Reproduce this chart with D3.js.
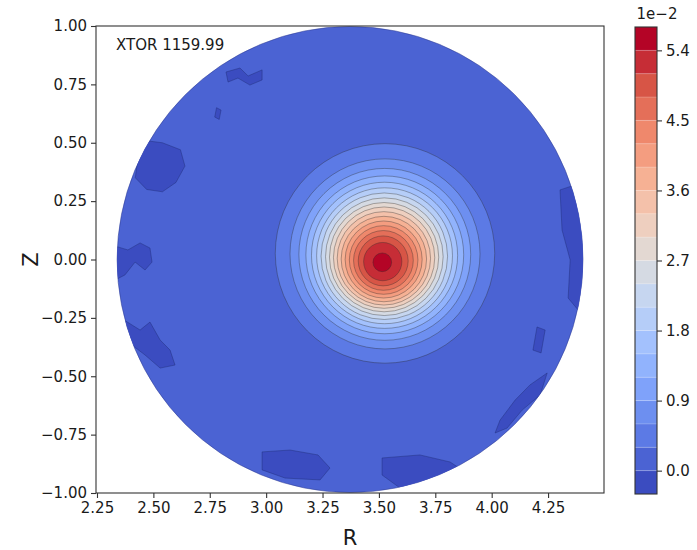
<!DOCTYPE html>
<html>
<head>
<meta charset="utf-8">
<script src="https://cdn.jsdelivr.net/npm/d3@7/dist/d3.min.js"></script>
<style>
  html, body { margin: 0; padding: 0; background: #fff; }
  svg { display: block; }
  text { font-family: "DejaVu Sans", sans-serif; fill: #1a1a1a; }
</style>
</head>
<body>
<svg id="chart" width="697" height="550"></svg>
<script>
// ---- data -------------------------------------------------------------
// filled-contour level boundaries (units of 1e-2)
const levels = [-0.3, 0.0, 0.3, 0.6, 0.9, 1.2, 1.5, 1.8, 2.1, 2.4, 2.7, 3.0,
                3.3, 3.6, 3.9, 4.2, 4.5, 4.8, 5.1, 5.4, 5.7];
const colorbarTicks = [0.0, 0.9, 1.8, 2.7, 3.6, 4.5, 5.4];
const rTicks = [2.25, 2.50, 2.75, 3.00, 3.25, 3.50, 3.75, 4.00, 4.25];
const zTicks = [-1.00, -0.75, -0.50, -0.25, 0.00, 0.25, 0.50, 0.75, 1.00];

// plasma boundary (R, Z centre and half-widths)
const boundary = { R0: 3.372, Z0: 0.0, aR: 1.033, aZ: 0.998 };

// closed iso-contours of the central peak, outermost first
const ringLevel   = [0.3, 0.6, 0.9, 1.2, 1.5, 1.8, 2.1, 2.4, 2.7, 3.0, 3.3, 3.6, 3.9, 4.2, 4.5, 4.8, 5.1, 5.4];
const ringRadiusZ = [0.470, 0.407, 0.368, 0.338, 0.313, 0.291, 0.271, 0.252, 0.234, 0.217, 0.200, 0.183, 0.165, 0.147, 0.128, 0.107, 0.082, 0.040];
const ringCenterR = [3.527, 3.527, 3.526, 3.526, 3.525, 3.525, 3.524, 3.524, 3.523, 3.523, 3.522, 3.522, 3.521, 3.521, 3.520, 3.519, 3.517, 3.515];
const ringCenterZ = [0.026, 0.024, 0.022, 0.020, 0.018, 0.016, 0.014, 0.012, 0.010, 0.008, 0.005, 0.002, 0.000, -0.002, -0.004, -0.006, -0.009, -0.012];
const ringElong = 1.035;   // R half-width / Z half-width of each contour

// small regions just below zero near the edge (R, Z outlines)
const negativePatches = [
  [[2.822,0.803],[2.884,0.820],[2.920,0.786],[2.982,0.812],[2.982,0.769],[2.928,0.747],[2.875,0.777],[2.831,0.760]],
  [[2.780,0.650],[2.800,0.640],[2.792,0.600],[2.772,0.610]],
  [[2.441,0.512],[2.540,0.500],[2.620,0.470],[2.640,0.400],[2.600,0.330],[2.540,0.290],[2.470,0.300],[2.420,0.350]],
  [[2.300,0.066],[2.387,0.041],[2.441,0.071],[2.485,0.049],[2.494,-0.011],[2.463,-0.045],[2.419,-0.011],[2.374,-0.066],[2.330,-0.088]],
  [[2.370,-0.259],[2.441,-0.302],[2.485,-0.268],[2.530,-0.345],[2.574,-0.388],[2.596,-0.452],[2.530,-0.465],[2.463,-0.409],[2.405,-0.366]],
  [[4.303,0.298],[4.356,0.315],[4.414,0.255],[4.436,0.084],[4.427,-0.173],[4.383,-0.216],[4.339,-0.165],[4.348,-0.002],[4.312,0.126]],
  [[4.201,-0.289],[4.237,-0.302],[4.219,-0.400],[4.183,-0.388]],
  [[4.246,-0.486],[4.215,-0.580],[4.135,-0.645],[4.068,-0.722],[4.015,-0.743],[4.037,-0.688],[4.104,-0.602],[4.170,-0.537]],
  [[2.982,-0.824],[3.106,-0.816],[3.230,-0.837],[3.283,-0.893],[3.239,-0.944],[3.084,-0.936],[2.982,-0.901]],
  [[3.514,-0.850],[3.682,-0.837],[3.815,-0.867],[3.904,-0.923],[3.771,-0.966],[3.594,-0.979],[3.514,-0.923]]
];

// ---- coolwarm colour map -----------------------------------------------
const coolwarmStops = ['#3b4cc0', '#5a78e4', '#7b9ff9', '#9ebeff', '#c0d4f5', '#dddcdc',
                       '#f2cbb7', '#f7ac8e', '#ee8468', '#d65244', '#b40426'];
const coolwarm = d3.scaleLinear()
  .domain(d3.range(coolwarmStops.length).map(i => i / (coolwarmStops.length - 1)))
  .range(coolwarmStops)
  .interpolate(d3.interpolateRgb);
const nBands = levels.length - 1;
const bandColor = i => coolwarm(i / (nBands - 1));
const bandOf = v => levels.findIndex((l, i) => i < nBands && v >= l - 1e-9 && v < levels[i + 1] - 1e-9);

// ---- layout ------------------------------------------------------------
const svg = d3.select('#chart');
const plot = { left: 96, right: 604, top: 26, bottom: 493 };
const cbar = { left: 635, right: 657, top: 27, bottom: 494 };

const x = d3.scaleLinear().domain([2.2456, 4.498]).range([plot.left, plot.right]);
const y = d3.scaleLinear().domain([-1, 1]).range([plot.bottom, plot.top]);

const defs = svg.append('defs');
defs.append('clipPath').attr('id', 'vessel')
  .append('ellipse')
  .attr('cx', x(boundary.R0)).attr('cy', y(boundary.Z0))
  .attr('rx', x(boundary.R0 + boundary.aR) - x(boundary.R0))
  .attr('ry', y(boundary.Z0) - y(boundary.Z0 + boundary.aZ));

const field = svg.append('g');

// background band (0 .. 0.3)
field.append('ellipse')
  .attr('cx', x(boundary.R0)).attr('cy', y(boundary.Z0))
  .attr('rx', x(boundary.R0 + boundary.aR) - x(boundary.R0))
  .attr('ry', y(boundary.Z0) - y(boundary.Z0 + boundary.aZ))
  .attr('fill', bandColor(bandOf(0.0)))
  .attr('stroke', '#2c3a8c').attr('stroke-opacity', 0.55).attr('stroke-width', 0.9);

const line = d3.line().x(d => x(d[0])).y(d => y(d[1])).curve(d3.curveLinearClosed);
field.append('g').attr('clip-path', 'url(#vessel)')
  .selectAll('path').data(negativePatches).join('path')
  .attr('d', line)
  .attr('fill', bandColor(bandOf(-0.3)))
  .attr('stroke', '#1e2a70').attr('stroke-opacity', 0.5).attr('stroke-width', 0.8);

// central peak, outermost contour first
const rings = ringLevel.map((v, i) => ({ v, rz: ringRadiusZ[i], R: ringCenterR[i], Z: ringCenterZ[i] }));
field.append('g').selectAll('ellipse').data(rings).join('ellipse')
  .attr('cx', d => x(d.R)).attr('cy', d => y(d.Z))
  .attr('rx', d => x(d.R + d.rz * ringElong) - x(d.R))
  .attr('ry', d => y(d.Z) - y(d.Z + d.rz))
  .attr('fill', d => bandColor(bandOf(d.v)))
  .attr('stroke', '#2a2a2a').attr('stroke-opacity', 0.45).attr('stroke-width', 0.8);

// ---- frame and axes ----------------------------------------------------
svg.append('rect')
  .attr('x', plot.left).attr('y', plot.top)
  .attr('width', plot.right - plot.left).attr('height', plot.bottom - plot.top)
  .attr('fill', 'none').attr('stroke', '#333').attr('stroke-width', 1.1);

const xAxis = svg.append('g').attr('transform', `translate(0,${plot.bottom})`)
  .call(d3.axisBottom(x).tickValues(rTicks).tickFormat(d3.format('.2f')).tickSize(5).tickPadding(4));
const yAxis = svg.append('g').attr('transform', `translate(${plot.left},0)`)
  .call(d3.axisLeft(y).tickValues(zTicks).tickFormat(d3.format('.2f')).tickSize(5).tickPadding(4));
[xAxis, yAxis].forEach(a => {
  a.select('.domain').remove();
  a.selectAll('.tick line').attr('stroke', '#333').attr('stroke-width', 1.1);
  a.selectAll('.tick text').attr('font-size', 15).attr('font-family', '"DejaVu Sans", sans-serif').attr('fill', '#1a1a1a');
});
yAxis.selectAll('.tick text').text(d => d3.format('.2f')(d).replace('-', '\u2212'));

svg.append('text').attr('x', (plot.left + plot.right) / 2).attr('y', 545)
  .attr('text-anchor', 'middle').attr('font-size', 21).text('R');
svg.append('text').attr('transform', `translate(38,${(plot.top + plot.bottom) / 2}) rotate(-90)`)
  .attr('text-anchor', 'middle').attr('font-size', 21).text('Z');

svg.append('text').attr('x', 116).attr('y', 50).attr('font-size', 15).text('XTOR 1159.99');

// ---- colour bar --------------------------------------------------------
const c = d3.scaleLinear().domain([levels[0], levels[nBands]]).range([cbar.bottom, cbar.top]);
const cb = svg.append('g');
cb.selectAll('rect').data(d3.range(nBands)).join('rect')
  .attr('x', cbar.left).attr('width', cbar.right - cbar.left)
  .attr('y', i => c(levels[i + 1])).attr('height', i => c(levels[i]) - c(levels[i + 1]))
  .attr('fill', i => bandColor(i));
cb.selectAll('line.sep').data(levels.slice(1, -1)).join('line').attr('class', 'sep')
  .attr('x1', cbar.left).attr('x2', cbar.right).attr('y1', d => c(d)).attr('y2', d => c(d))
  .attr('stroke', '#fff').attr('stroke-opacity', 0.25).attr('stroke-width', 0.8);
cb.append('rect').attr('x', cbar.left).attr('y', cbar.top)
  .attr('width', cbar.right - cbar.left).attr('height', cbar.bottom - cbar.top)
  .attr('fill', 'none').attr('stroke', '#333').attr('stroke-width', 1.1);
const cAxis = svg.append('g').attr('transform', `translate(${cbar.right},0)`)
  .call(d3.axisRight(c).tickValues(colorbarTicks).tickFormat(d3.format('.1f')).tickSize(5).tickPadding(4));
cAxis.select('.domain').remove();
cAxis.selectAll('.tick line').attr('stroke', '#333').attr('stroke-width', 1.1);
cAxis.selectAll('.tick text').attr('font-size', 15).attr('font-family', '"DejaVu Sans", sans-serif').attr('fill', '#1a1a1a');
svg.append('text').attr('x', cbar.right).attr('y', 19).attr('text-anchor', 'middle')
  .attr('font-size', 15).text('1e\u22122');
</script>
</body>
</html>
